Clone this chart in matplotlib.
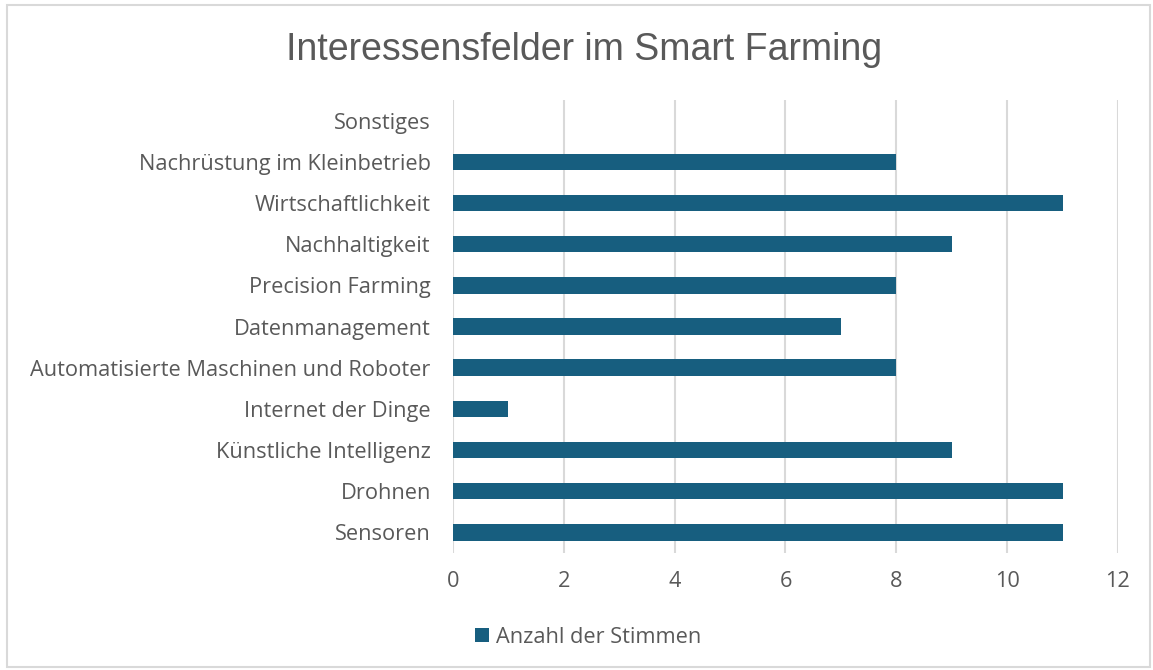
import matplotlib.pyplot as plt
from matplotlib.patches import Rectangle

# Data
categories = ["Sensoren", "Drohnen", "Künstliche Intelligenz", "Internet der Dinge",
              "Automatisierte Maschinen und Roboter", "Datenmanagement", "Precision Farming",
              "Nachhaltigkeit", "Wirtschaftlichkeit", "Nachrüstung im Kleinbetrieb", "Sonstiges"]
stimmen = [11, 11, 9, 1, 8, 7, 8, 9, 11, 8, 0]

plt.rcParams['font.family'] = ['Open Sans', 'DejaVu Sans']
text_color = '#595959'
bar_color = '#175e7f'

fig = plt.figure(figsize=(11.53, 6.70), dpi=100)
ax = fig.add_axes([0.3929, 0.1746, 0.5767, 0.6761])

ax.barh(categories, stimmen, height=0.4, color=bar_color, label='Anzahl der Stimmen', zorder=3)

ax.set_xlim(0, 12)
ax.set_xticks(range(0, 13, 2))
ax.set_ylim(-0.5, len(categories) - 0.5)
ax.grid(axis='x', color='#d9d9d9', linewidth=1.5, zorder=0)
for s in ['top', 'right', 'bottom', 'left']:
    ax.spines[s].set_visible(False)
ax.tick_params(axis='both', length=0, labelsize=15.7, labelcolor=text_color)
ax.tick_params(axis='x', pad=13)
ax.tick_params(axis='y', pad=16)

fig.text(0.5065, 0.925, "Interessensfelder im Smart Farming", ha='center', va='center',
         fontsize=27, color=text_color, family=['Liberation Sans', 'DejaVu Sans'])

ax.legend(loc='center', bbox_to_anchor=(588 / 1153, 0.049), bbox_transform=fig.transFigure,
          frameon=False, fontsize=15.7, labelcolor=text_color, handlelength=0.65, handleheight=0.65,
          handletextpad=0.3)

# chart frame
fig.patches.append(Rectangle((7 / 1153, 3 / 670), 1143 / 1153, 662 / 670, transform=fig.transFigure,
                             fill=False, edgecolor='#d9d9d9', linewidth=1.5))

plt.savefig("out.png")
